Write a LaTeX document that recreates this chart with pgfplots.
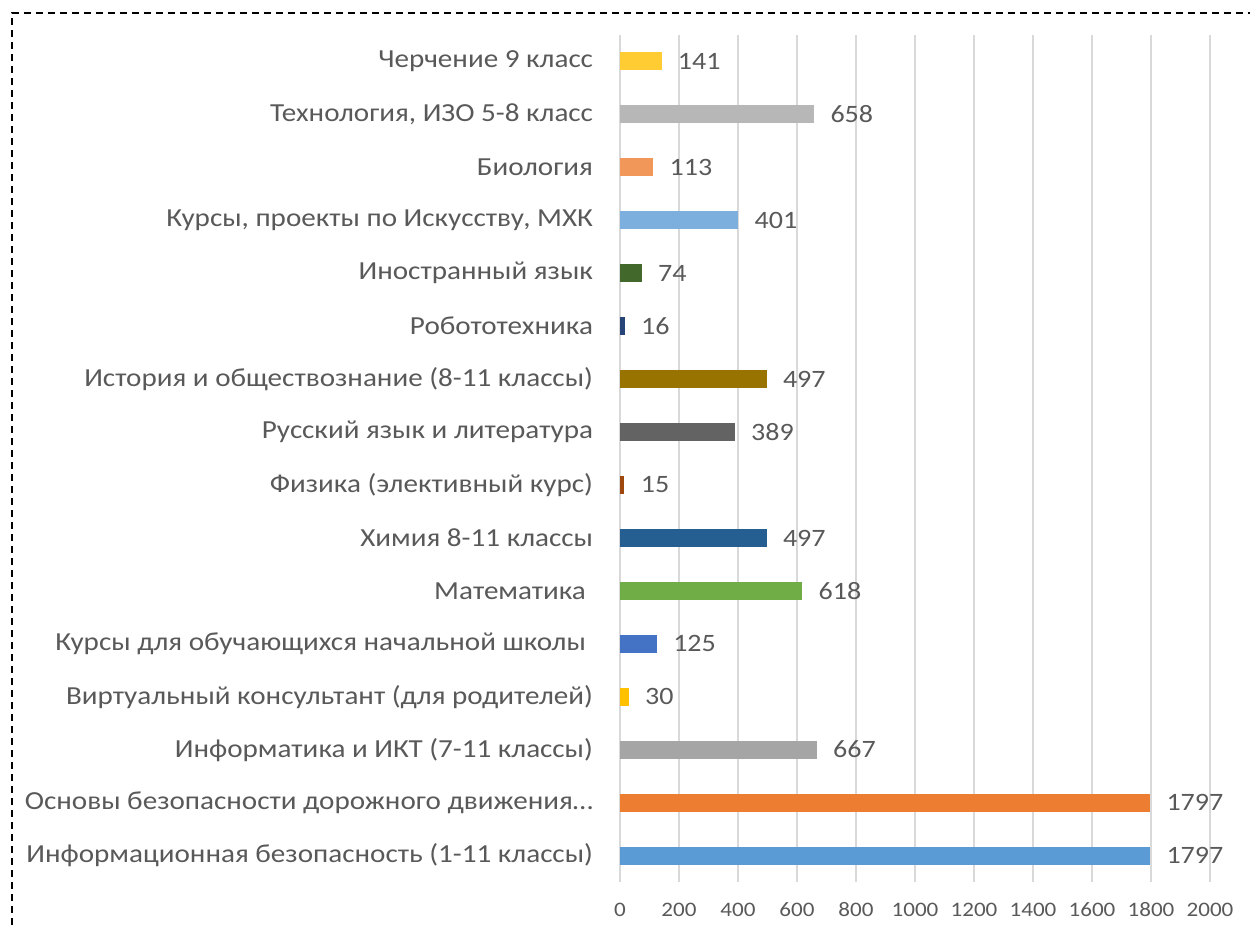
\documentclass[border=0pt]{standalone}
\usepackage{fontspec}
\setmainfont[FakeStretch=1.12]{Carlito}
\usepackage{pgfplots}
\pgfplotsset{compat=1.18}

\definecolor{txt}{HTML}{595959}
\definecolor{gridc}{HTML}{D9D9D9}
\definecolor{c1}{HTML}{5B9BD5}
\definecolor{c2}{HTML}{ED7D31}
\definecolor{c3}{HTML}{A5A5A5}
\definecolor{c4}{HTML}{FFC000}
\definecolor{c5}{HTML}{4472C4}
\definecolor{c6}{HTML}{70AD47}
\definecolor{c7}{HTML}{255E91}
\definecolor{c8}{HTML}{9E480E}
\definecolor{c9}{HTML}{636363}
\definecolor{c10}{HTML}{997300}
\definecolor{c11}{HTML}{264478}
\definecolor{c12}{HTML}{43682B}
\definecolor{c13}{HTML}{7CAFDD}
\definecolor{c14}{HTML}{F1975A}
\definecolor{c15}{HTML}{B7B7B7}
\definecolor{c16}{HTML}{FFCD33}

\begin{document}
\begin{tikzpicture}[x=1pt,y=1pt]
\begin{axis}[
   at={(310pt,21.5pt)}, anchor=south west,
   scale only axis, width=295pt, height=423.5pt,
   xbar, bar width=9pt, bar shift=0pt,
   xmin=0, xmax=2000, ymin=-0.5, ymax=15.5,
   xtick={0,200,...,2000},
   ytick={0,...,15},
   yticklabels={
     Информационная безопасность (1-11 классы),
     {Основы безопасности дорожного движения…},
     Информатика и ИКТ (7-11 классы),
     Виртуальный консультант (для родителей),
     Курсы для обучающихся начальной школы\kern3.5pt,
     Математика\kern3.5pt,
     Химия 8-11 классы,
     Физика (элективный курс),
     Русский язык и литература,
     История и обществознание (8-11 классы),
     Робототехника,
     Иностранный язык,
     {Курсы, проекты по Искусству, МХК},
     Биология,
     {Технология, ИЗО 5-8 класс},
     Черчение 9 класс},
   /pgf/number format/assume math mode=true,
   /pgf/number format/1000 sep={},
   xmajorgrids, grid style={gridc, line width=0.75pt},
   axis line style={draw=none},
   major tick length=0pt,
   yticklabel style={font=\fontsize{13}{15}\selectfont, text=txt, anchor=east, xshift=-10pt},
   xticklabel style={font=\fontsize{10.3}{12}\selectfont, text=txt, yshift=-6.5pt,
                     text height=7pt, text depth=0pt},
   nodes near coords,
   every node near coord/.append style={font=\fontsize{12.5}{14}\selectfont, text=txt, anchor=west, inner sep=0pt, xshift=8pt},
   every axis plot/.append style={draw=none},
]
\addplot[fill=c1]  coordinates {(1797,0)};
\addplot[fill=c2]  coordinates {(1797,1)};
\addplot[fill=c3]  coordinates {(667,2)};
\addplot[fill=c4]  coordinates {(30,3)};
\addplot[fill=c5]  coordinates {(125,4)};
\addplot[fill=c6]  coordinates {(618,5)};
\addplot[fill=c7]  coordinates {(497,6)};
\addplot[fill=c8]  coordinates {(15,7)};
\addplot[fill=c9]  coordinates {(389,8)};
\addplot[fill=c10] coordinates {(497,9)};
\addplot[fill=c11] coordinates {(16,10)};
\addplot[fill=c12] coordinates {(74,11)};
\addplot[fill=c13] coordinates {(401,12)};
\addplot[fill=c14] coordinates {(113,13)};
\addplot[fill=c15] coordinates {(658,14)};
\addplot[fill=c16] coordinates {(141,15)};
\end{axis}
% dashed frame (cropped box)
\draw[black, line width=1pt, dash pattern=on 3.5pt off 2.5pt] (6,0) -- (6,456) -- (625,456);
\pgfresetboundingbox
\path[use as bounding box] (0,0) rectangle (625,462.5);
\end{tikzpicture}
\end{document}
